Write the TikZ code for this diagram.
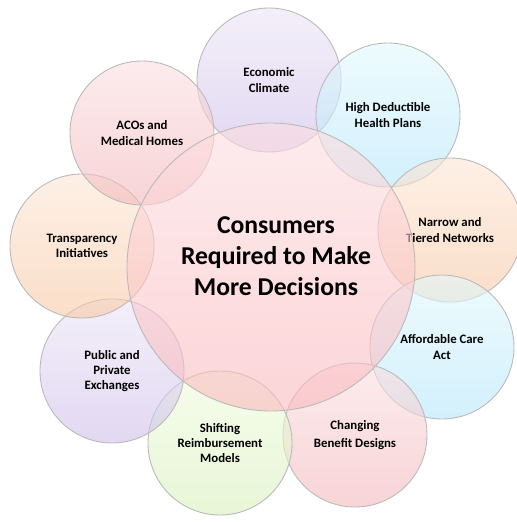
\documentclass[tikz,border=0pt]{standalone}
\usepackage{fontspec}
\setmainfont{Carlito}

% fill colours (top / bottom of each bubble)
\definecolor{hubTop}{RGB}{252,222,225}
\definecolor{hubBot}{RGB}{250,185,189}
\definecolor{lilacTop}{RGB}{235,229,246}
\definecolor{lilacBot}{RGB}{207,190,233}
\definecolor{cyanTop}{RGB}{226,248,253}
\definecolor{cyanBot}{RGB}{180,230,250}
\definecolor{peachTop}{RGB}{252,230,214}
\definecolor{peachBot}{RGB}{248,200,163}
\definecolor{roseTop}{RGB}{250,223,225}
\definecolor{roseBot}{RGB}{243,183,187}
\definecolor{limeTop}{RGB}{240,251,224}
\definecolor{limeBot}{RGB}{217,240,187}

\tikzset{
  bubble/.style={circle, draw=gray!55, line width=0.5pt, minimum size=2.88cm,
    inner sep=0pt, align=center, fill opacity=0.6, text opacity=1,
    font=\fontsize{7.3}{8.6}\selectfont\bfseries},
  hub/.style={bubble, minimum size=5.76cm,
    font=\fontsize{14.6}{17.6}\selectfont\bfseries},
}

\begin{document}
\begin{tikzpicture}
	\useasboundingbox (0,0) rectangle (10.34,10.44);
	% ring of drivers
	\node[bubble, top color=lilacTop, bottom color=lilacBot] (econ) at (5.38,8.84) {Economic\\Climate};
	\node[bubble, top color=cyanTop, bottom color=cyanBot] (hdhp) at (7.76,8.14) {High Deductible\\Health Plans};
	\node[bubble, top color=peachTop, bottom color=peachBot] (narrow) at (9.00,5.84) {Narrow and\\Tiered Networks};
	\node[bubble, top color=cyanTop, bottom color=cyanBot] (aca) at (8.84,3.50) {Affordable Care\\Act};
	\node[bubble, top color=roseTop, bottom color=roseBot] (benefit) at (7.10,1.74) {Changing\\[2pt]Benefit Designs};
	\node[bubble, top color=limeTop, bottom color=limeBot] (reimb) at (4.40,1.58) {Shifting\\Reimbursement\\Models};
	\node[bubble, top color=lilacTop, bottom color=lilacBot] (exchange) at (2.24,3.02) {Public and\\Private\\Exchanges};
	\node[bubble, top color=peachTop, bottom color=peachBot] (transp) at (1.64,5.52) {Transparency\\Initiatives};
	\node[bubble, top color=roseTop, bottom color=roseBot] (aco) at (2.84,7.78) {ACOs and\\Medical Homes};
	% centre
	\node[hub, top color=hubTop, bottom color=hubBot] (hub) at (5.42,5.10) {};
	\node[font=\fontsize{14.6}{17.6}\selectfont\bfseries, align=center] (hubtext) at (5.52,5.32)
		{Consumers\\Required to Make\\More Decisions};
\end{tikzpicture}
\end{document}
